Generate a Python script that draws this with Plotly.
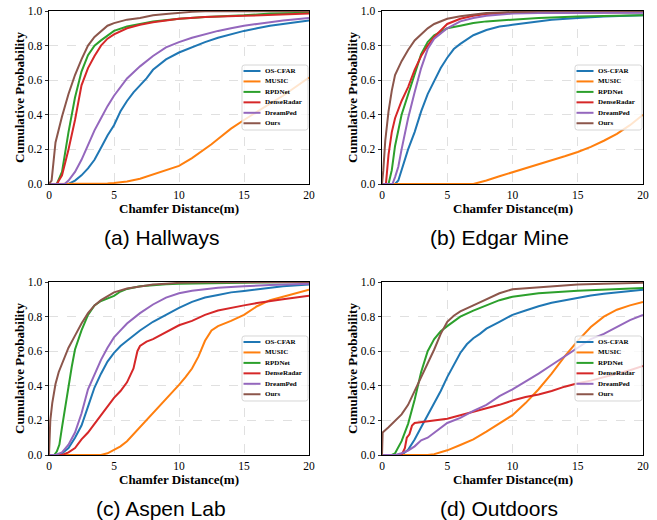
import plotly.graph_objects as go

W, H = 657, 520

METHODS = ["OS-CFAR", "MUSIC", "RPDNet", "DenseRadar", "DreamPed", "Ours"]
COLORS = ["#1f77b4", "#ff7f0e", "#2ca02c", "#d62728", "#9467bd", "#8c564b"]
PANEL_TITLES = ["(a) Hallways", "(b) Edgar Mine", "(c) Aspen Lab", "(d) Outdoors"]
X_TICKS = [0, 5, 10, 15, 20]
Y_TICKS = [0.0, 0.2, 0.4, 0.6, 0.8, 1.0]
X_LABEL = "Chamfer Distance(m)"
Y_LABEL = "Cumulative Probability"

# ---------------- (a) Hallways ----------------
HALL_OSCFAR_X = [0, 1.5, 2, 2.5, 3, 3.5, 4, 4.5, 5, 5.5, 6, 6.5, 7, 7.5, 8, 9, 10, 11, 12, 13, 14, 15, 16, 17, 18, 19, 20]
HALL_OSCFAR_Y = [0, 0, 0.02, 0.05, 0.09, 0.14, 0.21, 0.28, 0.34, 0.42, 0.48, 0.53, 0.57, 0.61, 0.66, 0.72, 0.76, 0.79, 0.82, 0.845, 0.865, 0.885, 0.9, 0.915, 0.925, 0.935, 0.945]
HALL_MUSIC_X = [0, 4, 4.5, 5, 6, 7, 8, 9, 10, 11, 12, 12.5, 13, 14, 15, 16, 17, 18, 19, 20]
HALL_MUSIC_Y = [0, 0, 0.003, 0.006, 0.015, 0.03, 0.055, 0.078, 0.105, 0.15, 0.2, 0.23, 0.26, 0.32, 0.37, 0.42, 0.465, 0.51, 0.56, 0.615]
HALL_RPDNET_X = [0, 0.6, 1, 1.5, 2, 2.5, 3, 3.5, 4, 4.5, 5, 6, 7, 8, 10, 12, 15, 17, 20]
HALL_RPDNET_Y = [0, 0, 0.07, 0.3, 0.5, 0.65, 0.745, 0.8, 0.83, 0.86, 0.885, 0.91, 0.925, 0.94, 0.955, 0.965, 0.975, 0.985, 0.99]
HALL_DENSE_X = [0, 0.6, 1, 1.5, 2, 2.5, 3, 3.5, 4, 4.5, 5, 6, 7, 8, 10, 12, 15, 17, 20]
HALL_DENSE_Y = [0, 0, 0.05, 0.2, 0.37, 0.57, 0.67, 0.74, 0.8, 0.84, 0.865, 0.9, 0.92, 0.935, 0.955, 0.965, 0.972, 0.978, 0.985]
HALL_DREAM_X = [0, 1.2, 1.5, 2, 2.5, 3, 3.5, 4, 4.5, 5, 5.5, 6, 7, 8, 9, 10, 11, 12, 13, 14, 15, 16, 17, 18, 20]
HALL_DREAM_Y = [0, 0, 0.02, 0.07, 0.14, 0.23, 0.31, 0.38, 0.45, 0.51, 0.56, 0.61, 0.68, 0.74, 0.79, 0.82, 0.845, 0.865, 0.885, 0.9, 0.915, 0.925, 0.935, 0.945, 0.96]
HALL_OURS_X = [0, 0.2, 0.5, 1, 1.5, 2, 2.5, 3, 3.5, 4, 4.5, 5, 6, 7, 8, 9, 10, 11, 12, 15, 20]
HALL_OURS_Y = [0, 0.02, 0.24, 0.39, 0.52, 0.63, 0.72, 0.8, 0.85, 0.885, 0.915, 0.93, 0.95, 0.96, 0.975, 0.983, 0.99, 0.995, 0.998, 1.0, 1.0]

# ---------------- (b) Edgar Mine ----------------
MINE_OSCFAR_X = [0, 1, 1.25, 1.5, 2, 2.5, 3, 3.5, 4, 4.5, 5, 5.5, 6, 7, 8, 9, 10, 11, 12, 13, 15, 17, 20]
MINE_OSCFAR_Y = [0, 0, 0.02, 0.08, 0.2, 0.3, 0.42, 0.52, 0.6, 0.67, 0.73, 0.78, 0.81, 0.86, 0.89, 0.91, 0.92, 0.93, 0.94, 0.95, 0.96, 0.968, 0.975]
MINE_MUSIC_X = [0, 7, 7.5, 8, 9, 10, 11, 12, 13, 14, 15, 16, 17, 18, 19, 20]
MINE_MUSIC_Y = [0, 0, 0.01, 0.02, 0.045, 0.068, 0.09, 0.11, 0.135, 0.16, 0.185, 0.215, 0.25, 0.29, 0.34, 0.40]
MINE_RPDNET_X = [0, 0.5, 0.75, 1, 1.5, 2, 2.5, 3, 3.5, 4, 4.5, 5, 6, 7, 8, 9, 10, 12, 15, 20]
MINE_RPDNET_Y = [0, 0, 0.08, 0.22, 0.4, 0.52, 0.63, 0.75, 0.82, 0.86, 0.88, 0.9, 0.915, 0.93, 0.94, 0.945, 0.95, 0.96, 0.968, 0.975]
MINE_DENSE_X = [0, 0.3, 0.5, 0.75, 1, 1.5, 2, 2.5, 3, 3.5, 4, 4.5, 5, 6, 7, 8, 10, 15, 20]
MINE_DENSE_Y = [0, 0, 0.17, 0.3, 0.38, 0.48, 0.56, 0.66, 0.74, 0.8, 0.85, 0.89, 0.925, 0.955, 0.972, 0.982, 0.99, 0.992, 0.993]
MINE_DREAM_X = [0, 0.8, 1, 1.25, 1.5, 2, 2.5, 3, 3.5, 4, 4.5, 5, 6, 7, 8, 9, 10, 12, 15, 20]
MINE_DREAM_Y = [0, 0, 0.04, 0.1, 0.2, 0.38, 0.53, 0.67, 0.78, 0.84, 0.87, 0.9, 0.94, 0.96, 0.973, 0.98, 0.985, 0.988, 0.99, 0.99]
MINE_OURS_X = [0, 0.1, 0.25, 0.5, 0.75, 1, 1.5, 2, 2.5, 3, 3.5, 4, 5, 6, 7, 8, 9, 10, 12, 15, 20]
MINE_OURS_Y = [0, 0.08, 0.25, 0.42, 0.54, 0.63, 0.71, 0.775, 0.83, 0.865, 0.9, 0.925, 0.955, 0.97, 0.98, 0.988, 0.992, 0.995, 0.998, 1.0, 1.0]

# ---------------- (c) Aspen Lab ----------------
LAB_OSCFAR_X = [0, 0.7, 1, 1.5, 2, 2.5, 3, 3.5, 4, 4.5, 5, 5.5, 6, 7, 8, 9, 10, 11, 12, 13, 14, 15, 16, 17, 18, 20]
LAB_OSCFAR_Y = [0, 0, 0.01, 0.04, 0.1, 0.17, 0.28, 0.39, 0.47, 0.54, 0.59, 0.63, 0.66, 0.72, 0.77, 0.81, 0.85, 0.885, 0.91, 0.925, 0.94, 0.948, 0.958, 0.968, 0.975, 0.985]
LAB_MUSIC_X = [0, 4, 4.5, 5, 5.5, 6, 6.5, 7, 7.5, 8, 8.5, 9, 9.5, 10, 10.5, 11, 11.5, 12, 12.5, 13, 14, 15, 16, 17, 18, 19, 20]
LAB_MUSIC_Y = [0, 0, 0.01, 0.03, 0.05, 0.08, 0.12, 0.16, 0.2, 0.245, 0.28, 0.32, 0.36, 0.405, 0.45, 0.5, 0.57, 0.66, 0.72, 0.745, 0.775, 0.81, 0.86, 0.895, 0.915, 0.935, 0.955]
LAB_RPDNET_X = [0, 0.4, 0.6, 0.8, 1, 1.25, 1.5, 1.75, 2, 2.5, 3, 3.5, 4, 4.5, 5, 5.5, 6, 7, 8, 9, 10, 12, 15, 20]
LAB_RPDNET_Y = [0, 0, 0.02, 0.06, 0.16, 0.28, 0.4, 0.51, 0.61, 0.72, 0.81, 0.865, 0.89, 0.905, 0.92, 0.945, 0.96, 0.975, 0.982, 0.987, 0.99, 0.993, 0.996, 1.0]
LAB_DENSE_X = [0, 1, 1.5, 2, 2.5, 3, 3.5, 4, 4.5, 5, 5.5, 6, 6.5, 6.8, 7, 7.5, 8, 9, 10, 11, 12, 13, 14, 15, 16, 17, 18, 20]
LAB_DENSE_Y = [0, 0, 0.015, 0.04, 0.09, 0.13, 0.18, 0.23, 0.28, 0.33, 0.37, 0.42, 0.5, 0.6, 0.63, 0.655, 0.67, 0.71, 0.75, 0.775, 0.81, 0.835, 0.852, 0.865, 0.878, 0.89, 0.9, 0.92]
LAB_DREAM_X = [0, 0.5, 1, 1.5, 2, 2.5, 3, 3.5, 4, 4.5, 5, 5.5, 6, 7, 8, 9, 10, 11, 12, 13, 15, 17, 20]
LAB_DREAM_Y = [0, 0, 0.015, 0.06, 0.13, 0.24, 0.38, 0.47, 0.55, 0.62, 0.68, 0.72, 0.76, 0.82, 0.87, 0.91, 0.935, 0.95, 0.96, 0.967, 0.975, 0.983, 0.99]
LAB_OURS_X = [0, 0.1, 0.25, 0.5, 0.75, 1, 1.5, 2, 2.5, 3, 3.5, 4, 5, 6, 7, 8, 9, 10, 12, 20]
LAB_OURS_Y = [0, 0.2, 0.3, 0.41, 0.48, 0.53, 0.62, 0.69, 0.76, 0.82, 0.865, 0.895, 0.94, 0.962, 0.975, 0.985, 0.99, 0.995, 0.998, 1.0]

# ---------------- (d) Outdoors ----------------
OUT_OSCFAR_X = [0, 1.5, 2, 2.5, 3, 3.5, 4, 4.5, 5, 5.5, 6, 6.5, 7, 7.5, 8, 9, 10, 11, 12, 13, 14, 15, 16, 17, 18, 20]
OUT_OSCFAR_Y = [0, 0, 0.03, 0.09, 0.16, 0.23, 0.3, 0.37, 0.45, 0.52, 0.59, 0.64, 0.675, 0.7, 0.73, 0.77, 0.81, 0.835, 0.86, 0.88, 0.895, 0.91, 0.922, 0.932, 0.94, 0.955]
OUT_MUSIC_X = [0, 3.5, 4, 5, 6, 7, 8, 9, 10, 11, 12, 13, 14, 15, 16, 17, 18, 19, 20]
OUT_MUSIC_Y = [0, 0, 0.005, 0.027, 0.058, 0.09, 0.135, 0.18, 0.23, 0.3, 0.38, 0.47, 0.57, 0.66, 0.74, 0.8, 0.84, 0.865, 0.885]
OUT_RPDNET_X = [0, 0.75, 1, 1.5, 2, 2.5, 3, 3.5, 4, 4.5, 5, 5.5, 6, 7, 8, 9, 10, 12, 15, 17, 20]
OUT_RPDNET_Y = [0, 0, 0.01, 0.08, 0.18, 0.32, 0.48, 0.6, 0.67, 0.715, 0.745, 0.77, 0.8, 0.835, 0.865, 0.895, 0.915, 0.935, 0.95, 0.957, 0.965]
OUT_DENSE_X = [0, 1.5, 1.75, 1.9, 2.1, 2.3, 2.5, 3, 4, 5, 6, 7, 8, 9, 10, 11, 12, 13, 14, 15, 16, 17, 18, 19, 20]
OUT_DENSE_Y = [0, 0, 0.04, 0.1, 0.12, 0.17, 0.185, 0.19, 0.2, 0.21, 0.23, 0.25, 0.27, 0.29, 0.315, 0.335, 0.35, 0.37, 0.395, 0.415, 0.43, 0.45, 0.47, 0.49, 0.515]
OUT_DREAM_X = [0, 1, 1.5, 2, 2.5, 3, 3.5, 4, 4.5, 5, 6, 7, 8, 9, 10, 11, 12, 13, 14, 15, 16, 17, 18, 19, 20]
OUT_DREAM_Y = [0, 0, 0.01, 0.025, 0.05, 0.085, 0.1, 0.13, 0.155, 0.185, 0.215, 0.255, 0.29, 0.34, 0.38, 0.425, 0.47, 0.52, 0.57, 0.625, 0.67, 0.7, 0.74, 0.78, 0.81]
OUT_OURS_X = [0, 0.05, 0.5, 1, 1.5, 2, 2.5, 3, 3.5, 4, 4.5, 5, 5.5, 6, 7, 8, 9, 10, 12, 15, 17, 20]
OUT_OURS_Y = [0, 0.13, 0.16, 0.195, 0.235, 0.29, 0.37, 0.45, 0.53, 0.61, 0.7, 0.77, 0.805, 0.83, 0.865, 0.9, 0.935, 0.958, 0.97, 0.985, 0.99, 0.995]

PANEL_DATA = [
    [(HALL_OSCFAR_X, HALL_OSCFAR_Y), (HALL_MUSIC_X, HALL_MUSIC_Y), (HALL_RPDNET_X, HALL_RPDNET_Y),
     (HALL_DENSE_X, HALL_DENSE_Y), (HALL_DREAM_X, HALL_DREAM_Y), (HALL_OURS_X, HALL_OURS_Y)],
    [(MINE_OSCFAR_X, MINE_OSCFAR_Y), (MINE_MUSIC_X, MINE_MUSIC_Y), (MINE_RPDNET_X, MINE_RPDNET_Y),
     (MINE_DENSE_X, MINE_DENSE_Y), (MINE_DREAM_X, MINE_DREAM_Y), (MINE_OURS_X, MINE_OURS_Y)],
    [(LAB_OSCFAR_X, LAB_OSCFAR_Y), (LAB_MUSIC_X, LAB_MUSIC_Y), (LAB_RPDNET_X, LAB_RPDNET_Y),
     (LAB_DENSE_X, LAB_DENSE_Y), (LAB_DREAM_X, LAB_DREAM_Y), (LAB_OURS_X, LAB_OURS_Y)],
    [(OUT_OSCFAR_X, OUT_OSCFAR_Y), (OUT_MUSIC_X, OUT_MUSIC_Y), (OUT_RPDNET_X, OUT_RPDNET_Y),
     (OUT_DENSE_X, OUT_DENSE_Y), (OUT_DREAM_X, OUT_DREAM_Y), (OUT_OURS_X, OUT_OURS_Y)],
]

# ---------------- layout (pixel geometry of the reference) ----------------
PANELS_PX = [(49, 11, 260, 173), (382, 11, 261, 173), (49, 282, 260, 173), (382, 282, 261, 173)]
CAPTION_PX = [(162, 238), (499, 238), (161, 508), (499, 508)]

SERIF = "Liberation Serif, Times New Roman, serif"
SANS = "Liberation Sans, Arial, sans-serif"


def px(xp):
    return xp / W


def py(yp):
    return 1 - yp / H


fig = go.Figure()

for k, series in enumerate(PANEL_DATA):
    xa = "x" if k == 0 else f"x{k + 1}"
    ya = "y" if k == 0 else f"y{k + 1}"
    for name, color, (xs, ys) in zip(METHODS, COLORS, series):
        fig.add_trace(go.Scatter(x=xs, y=ys, mode="lines", name=name, xaxis=xa, yaxis=ya,
                                 line=dict(color=color, width=2), showlegend=False,
                                 hoverinfo="skip"))

layout = dict(width=W, height=H, margin=dict(l=0, r=0, t=0, b=0, pad=0, autoexpand=False),
              template="none", paper_bgcolor="white", plot_bgcolor="white",
              showlegend=False, hovermode=False)

tick_font = dict(family=SERIF, size=11.5, color="black")
title_font = dict(family=SERIF, size=13, color="black", weight="bold")

for k, (L, T, Wp, Hp) in enumerate(PANELS_PX):
    suf = "" if k == 0 else str(k + 1)
    common = dict(showgrid=True, gridcolor="#d8d8d8", griddash="dash", gridwidth=0.8,
                  showline=True, mirror=True, linecolor="black", linewidth=1,
                  ticklen=3.5, tickwidth=0.8, tickcolor="black",
                  tickfont=tick_font, zeroline=False, fixedrange=True, automargin=False,
                  ticklabeloverflow="allow")
    # main x axis: labels sit close to the frame (tick marks drawn by the overlay axis below)
    layout["xaxis" + suf] = dict(common, domain=[px(L), px(L + Wp)], anchor="y" + suf,
                                 range=[0, 20], tickvals=X_TICKS, ticks="")
    layout["yaxis" + suf] = dict(common, domain=[py(T + Hp), py(T)], anchor="x" + suf,
                                 range=[0, 1], tickvals=Y_TICKS, tickformat=".1f",
                                 ticks="outside",
                                 title=dict(text=Y_LABEL, font=title_font, standoff=0))
    # overlay x axis carrying only the outward tick marks
    layout[f"xaxis{k + 5}"] = dict(overlaying="x" + suf, anchor="y" + suf, side="bottom",
                                   range=[0, 20], tickvals=X_TICKS, ticks="outside",
                                   ticklen=3.5, tickwidth=0.8, tickcolor="black",
                                   showticklabels=False, showgrid=False, showline=False,
                                   zeroline=False, fixedrange=True, automargin=False)

fig.update_layout(**layout)

shapes = []
annotations = []


def rounded_rect(x0, y0, x1, y1, r):
    def P(a, b):
        return f"{px(a):.5f},{py(b):.5f}"
    return (f"M {P(x0 + r, y0)} L {P(x1 - r, y0)} Q {P(x1, y0)} {P(x1, y0 + r)} "
            f"L {P(x1, y1 - r)} Q {P(x1, y1)} {P(x1 - r, y1)} "
            f"L {P(x0 + r, y1)} Q {P(x0, y1)} {P(x0, y1 - r)} "
            f"L {P(x0, y0 + r)} Q {P(x0, y0)} {P(x0 + r, y0)} Z")


for k, (L, T, Wp, Hp) in enumerate(PANELS_PX):
    # x-axis title, placed just under the tick labels
    annotations.append(dict(xref="paper", yref="paper", x=px(L + Wp / 2), y=py(T + Hp + 24),
                            xanchor="center", yanchor="middle", showarrow=False, text=X_LABEL,
                            font=title_font))
    # legend box
    bx0, bx1 = L + 193, L + Wp - 1
    by0, by1 = T + 54, T + 119
    shapes.append(dict(type="path", xref="paper", yref="paper",
                       path=rounded_rect(bx0, by0, bx1, by1, 2.5),
                       fillcolor="rgba(255,255,255,0.8)",
                       line=dict(color="#cccccc", width=0.8), layer="above"))
    for i, (name, color) in enumerate(zip(METHODS, COLORS)):
        ry = T + 60 + i * 10.45
        shapes.append(dict(type="line", xref="paper", yref="paper",
                           x0=px(L + 194.5), x1=px(L + 211.5), y0=py(ry), y1=py(ry),
                           line=dict(color=color, width=2), layer="above"))
        annotations.append(dict(xref="paper", yref="paper", x=px(L + 213.5), y=py(ry),
                                xanchor="left", yanchor="middle", showarrow=False, text=name,
                                font=dict(family=SERIF, size=7, color="black", weight="bold")))

for (cx, cy), text in zip(CAPTION_PX, PANEL_TITLES):
    annotations.append(dict(xref="paper", yref="paper", x=px(cx), y=py(cy),
                            xanchor="center", yanchor="middle", showarrow=False, text=text,
                            font=dict(family=SANS, size=21, color="black")))

fig.update_layout(shapes=shapes, annotations=annotations)

# remove the browser's default 8px page margin so the figure fills the window exactly
fig.write_html("out.html", config={"displayModeBar": False, "staticPlot": True},
               post_script="document.body.style.margin='0px';")
